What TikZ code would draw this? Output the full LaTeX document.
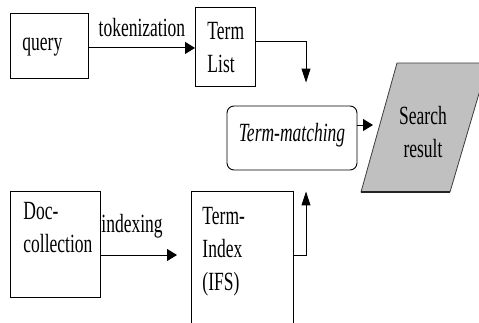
\documentclass[tikz,border=0pt]{standalone}
\usepackage{fontspec}
\setmainfont{Liberation Serif}
\usepackage{graphicx}
\usetikzlibrary{arrows.meta, positioning, calc}

\definecolor{resultgray}{RGB}{192, 192, 192}
\definecolor{edgegray}{RGB}{60, 60, 60}

% tall, narrow lettering for box texts and edge labels
\newcommand{\tallstack}[2][l]{\scalebox{1}[1.5]{\begin{tabular}[t]{@{}#1@{}}#2\end{tabular}}}
\newcommand{\tallword}[1]{\scalebox{1}[1.5]{#1}}

\tikzset{
	stage/.style={rectangle, draw=black, line width=0.9pt, anchor=north west, align=left, inner ysep=0pt, font=\fontsize{17.5}{22}\selectfont},
	stagesize/.style n args={4}{inner xsep=#1, text width=#2, text height=#3, text depth=#4},
	matchbox/.style={rectangle, rounded corners=7pt, draw=black, line width=0.9pt, minimum width=130pt, inner ysep=0pt, text height=35pt, text depth=29pt, font=\fontsize{17.5}{22}\selectfont\itshape},
	resulttext/.style={inner sep=0pt, font=\fontsize{17.5}{22}\selectfont},
	edgelabel/.style={inner sep=0pt, font=\fontsize{17.5}{22}\selectfont},
	harrow/.style={-{Triangle[length=10pt, width=12pt]}, line width=1pt},
	varrow/.style={-{Triangle[length=14pt, width=9pt]}, line width=1pt},
}

\begin{document}
\begin{tikzpicture}[x=1pt, y=-1pt]
	\clip (0,0) rectangle (479,322);
	% boxes
	\node[stage, stagesize={12pt}{54pt}{37pt}{28pt}] (query) at (10,13) {\tallstack{query}};
	\node[stage, stagesize={12pt}{36pt}{32pt}{47pt}] (tlist) at (195,7) {\tallstack{Term\\List}};
	\node[stage, stagesize={13pt}{64pt}{28pt}{78pt}] (doc) at (10,191) {\tallstack{Doc-\\collection}};
	\node[stage, stagesize={11pt}{80pt}{33pt}{110pt}] (tindex) at (191,191) {\tallstack{Term-\\Index\\(IFS)}};
	\node[matchbox] (match) at (292,138) {\tallword{Term-matching}};
	% search result
	\filldraw[fill=resultgray, draw=edgegray, line width=0.8pt] (361,192) -- (450,192) -- (488,63) -- (397,63) -- cycle;
	\draw[edgegray!60!black, line width=1.6pt] (361,192) -- (450,192);
	\node[resulttext, anchor=base] (result) at (423,124) {\tallstack[c]{Search\\result}};
	\coordinate (resin) at (373,125);
	\coordinate (irow) at (0,255);
	% connectors
	\draw[harrow] ([yshift=-2pt]query.east) -- ([yshift=-2pt]query.east -| tlist.west)
		node[edgelabel, midway, above=10.5pt] {\tallword{tokenization}};
	\draw[harrow, shorten >=14pt] (doc.east |- irow) -- (tindex.west |- irow)
		node[edgelabel, pos=0, anchor=south west, yshift=16pt] {\tallword{indexing}};
	\draw[varrow, shorten >=23pt] ([yshift=5pt]tlist.east) -| ([xshift=14pt]match.north);
	\draw[varrow, shorten >=21pt] (tindex.east |- irow) -| ([xshift=14pt]match.south);
	\draw[harrow] (match.east |- resin) -- (resin);
\end{tikzpicture}
\end{document}
